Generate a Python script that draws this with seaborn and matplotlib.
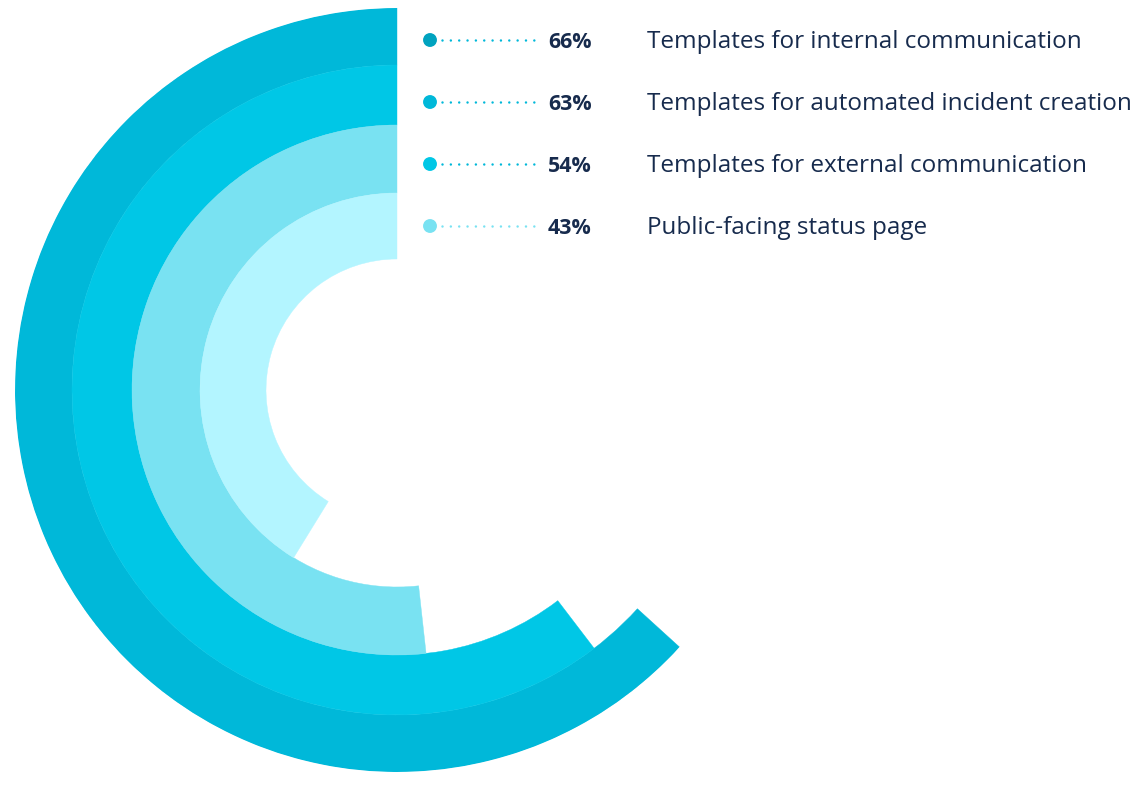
import numpy as np
import matplotlib
matplotlib.use("Agg")
import matplotlib.pyplot as plt
import seaborn as sns

# Survey results: share of respondents using each capability
categories = [
    "Templates for internal communication",
    "Templates for automated incident creation",
    "Templates for external communication",
    "Public-facing status page",
]
values = [66, 63, 54, 43]

ring_colors = ["#00B8D9", "#00C7E6", "#79E2F2", "#B3F5FF"]
dot_colors = ["#00A3BF", "#00B8D9", "#00C7E6", "#79E2F2"]
leader_colors = ["#00B8D9", "#00B8D9", "#00B8D9", "#79E2F2"]
text_color = "#172B4D"

W, H = 1142, 787
sns.set_theme(style="white")
plt.rcParams["font.family"] = ["Open Sans", "DejaVu Sans"]
plt.rcParams["lines.scale_dashes"] = False

fig = plt.figure(figsize=(W / 100, H / 100), dpi=100)
fig.patch.set_facecolor("white")

# ---- radial bars -------------------------------------------------------
cx, cy, R = 397, 390, 382          # centre and outer radius in pixels
ax = fig.add_axes([(cx - R) / W, (H - cy - R) / H, 2 * R / W, 2 * R / H],
                  projection="polar")
ax.set_theta_zero_location("N")
ax.set_theta_direction(1)           # counter-clockwise from 12 o'clock

ring_outer = np.array([382, 325, 265, 197])
ring_inner = np.array([325, 265, 197, 131])
deg_per_pct = 3.45                  # angular scale of the bars

theta = np.deg2rad(np.array(values) * deg_per_pct)
ax.bar(np.zeros(len(values)), ring_outer - ring_inner, width=theta,
       bottom=ring_inner, align="edge", color=ring_colors,
       edgecolor=ring_colors, linewidth=0.3)
ax.set_ylim(0, R)
ax.set_axis_off()

# ---- legend column ------------------------------------------------------
lax = fig.add_axes([0, 0, 1, 1])
lax.set_xlim(0, W)
lax.set_ylim(H, 0)
lax.set_axis_off()

rows = np.array([40, 102, 164, 226])
sns.scatterplot(x=np.full(len(rows), 430), y=rows, hue=categories,
                palette=dot_colors, s=100, linewidth=0, legend=False, ax=lax)

for y, v, lab, lc in zip(rows, values, categories, leader_colors):
    lax.plot([442, 536], [y, y], color=lc, lw=1.8,
             linestyle=(0, (0.01, 6.0)), dash_capstyle="round")
    lax.text(548, y + 7.5, f"{v}%", fontsize=15.4, fontweight="bold",
             color=text_color, va="baseline", ha="left")
    lax.text(647, y + 8, lab, fontsize=17.5, color=text_color,
             va="baseline", ha="left")

fig.savefig("out.png", dpi=100, facecolor="white")
